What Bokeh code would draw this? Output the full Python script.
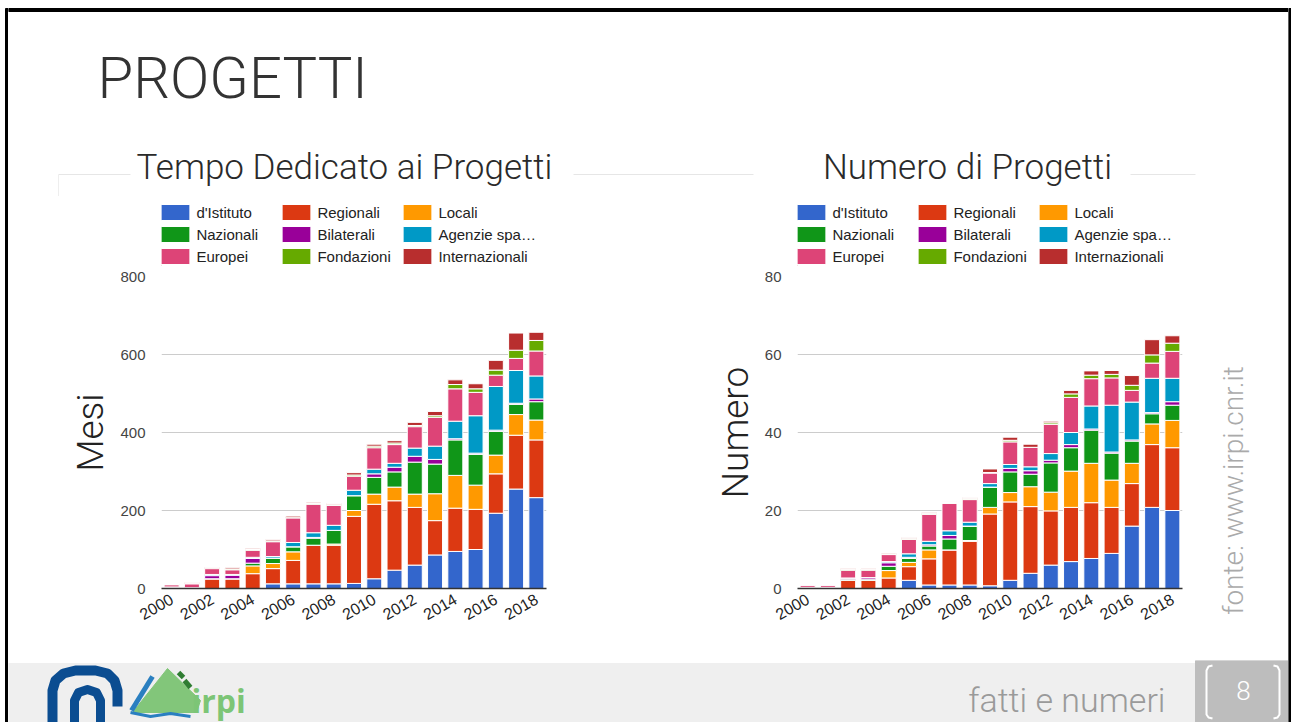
import math
from bokeh.plotting import figure
from bokeh.models import Range1d, FixedTicker, Legend, LegendItem, Label, ColumnDataSource
from bokeh.layouts import row, column
from bokeh.embed import file_html
from bokeh.resources import INLINE

# ---------------- data ----------------
years = list(range(2000, 2019))
x_tick_years = list(range(2000, 2019, 2))
x_tick_labels = [str(y) for y in x_tick_years]

series_labels = ["d'Istituto", "Regionali", "Locali", "Nazionali", "Bilaterali",
                 "Agenzie spa…", "Europei", "Fondazioni", "Internazionali"]
series_colors = ["#3366cc", "#dc3912", "#ff9900", "#109618", "#990099",
                 "#0099c6", "#dd4477", "#66aa00", "#b82e2e"]

# Tempo dedicato ai progetti (mesi)
mesi_istituto = [0, 0, 0, 0, 0, 12, 12, 12, 12, 13, 25, 47, 60, 86, 95, 100, 193, 255, 233]
mesi_regionali = [4, 2, 25, 25, 38, 39, 60, 99, 99, 172, 191, 178, 148, 88, 111, 103, 101, 138, 148]
mesi_locali = [0, 0, 0, 0, 20, 13, 22, 0, 3, 15, 26, 35, 34, 69, 84, 62, 48, 53, 51]
mesi_nazionali = [0, 0, 0, 0, 7, 14, 13, 18, 35, 38, 43, 39, 82, 76, 91, 79, 61, 26, 47]
mesi_bilaterali = [0, 0, 8, 9, 12, 0, 0, 2, 0, 0, 9, 12, 15, 12, 3, 3, 3, 3, 7]
mesi_agenzie = [0, 0, 3, 2, 3, 4, 11, 12, 13, 14, 12, 10, 21, 34, 45, 96, 112, 84, 59]
mesi_europei = [6, 10, 15, 12, 18, 38, 63, 73, 51, 36, 55, 48, 55, 74, 83, 60, 29, 31, 64]
mesi_fondazioni = [0, 1, 1, 2, 2, 2, 2, 2, 2, 3, 4, 4, 3, 4, 11, 9, 13, 21, 27]
mesi_internazionali = [0, 2, 2, 3, 3, 3, 3, 3, 3, 6, 5, 6, 8, 11, 12, 13, 25, 44, 21]

# Numero di progetti
num_istituto = [0, 0, 0, 0, 0, 2.1, 0.9, 0.9, 0.9, 0.7, 2.1, 3.9, 6.0, 6.9, 7.7, 9.0, 16.0, 20.8, 20.0]
num_regionali = [0.3, 0.3, 2.1, 2.1, 2.7, 3.5, 6.7, 9.0, 11.2, 18.4, 20.1, 17.1, 13.9, 13.9, 14.3, 11.8, 10.9, 16.1, 16.1]
num_locali = [0, 0, 0, 0, 1.9, 1.1, 2.3, 0, 0.2, 1.7, 2.4, 5.1, 4.8, 9.3, 10.1, 7.0, 5.2, 5.3, 7.0]
num_nazionali = [0, 0, 0.3, 0.3, 1.1, 1.0, 1.0, 2.8, 3.7, 5.2, 5.3, 3.2, 7.5, 6.0, 8.5, 6.9, 5.7, 2.6, 3.9]
num_bilaterali = [0, 0, 0.3, 0.4, 0.9, 0.3, 0.3, 0.9, 0, 0, 0.9, 0.9, 0.7, 0.8, 0.3, 0.3, 0.3, 0.3, 0.9]
num_agenzie = [0, 0, 0, 0, 0.3, 0.9, 0.9, 1.2, 1.0, 0.9, 1.0, 1.0, 1.7, 3.1, 5.9, 12.0, 9.7, 8.8, 6.0]
num_europei = [0.6, 0.6, 2.0, 1.9, 1.8, 3.7, 6.9, 7.0, 5.8, 2.7, 5.8, 5.0, 7.5, 9.0, 7.0, 7.0, 3.0, 3.9, 6.9]
num_fondazioni = [0, 0, 0.15, 0.15, 0.2, 0.25, 0.2, 0.25, 0.25, 0.15, 0.4, 0, 0.4, 0.9, 0.9, 0.9, 1.3, 2.1, 2.1]
num_internazionali = [0, 0, 0.2, 0.2, 0.2, 0.25, 0.2, 0.25, 0.25, 0.9, 0.8, 0.8, 0.4, 0.9, 1.1, 1.0, 2.5, 3.9, 1.9]

mesi_ticks = [0, 200, 400, 600, 800]
num_ticks = [0, 20, 40, 60, 80]

LIGHT = "Roboto Light"
SANS = "Liberation Sans"


def blank(width, height, y_down=True, bg="white"):
    p = figure(width=width, height=height, x_range=Range1d(0, width),
               y_range=Range1d(height, 0) if y_down else Range1d(0, height),
               x_axis_type=None, y_axis_type=None, output_backend="svg",
               toolbar_location=None, min_border=0, title=None)
    p.grid.visible = False
    p.outline_line_color = None
    p.background_fill_color = bg
    p.border_fill_color = bg
    return p


def make_legend_fig(width):
    # its frame is aligned by the column with the chart frame below it
    lf = blank(width, 70, y_down=False)
    rs = [lf.vbar(x=[-1e6], top=[1], width=1, fill_color=c, line_color="white", line_width=1)
          for c in series_colors]
    legend = Legend(items=[LegendItem(label=l, renderers=[r]) for l, r in zip(series_labels, rs)],
                    orientation="horizontal", ncols=3, location=(-3.6, 0),
                    glyph_width=36, glyph_height=20, label_height=20, label_width=80,
                    label_standoff=3, spacing=2, padding=0, margin=0,
                    border_line_color=None, background_fill_alpha=0,
                    label_text_font=SANS, label_text_font_size="15px",
                    label_text_color="#222222")
    lf.add_layout(legend, "center")
    return lf


def make_chart(values, y_end, y_ticks, y_title, width, b_left, b_right):
    keys = ["s%d" % i for i in range(len(values))]
    data = {"year": years}
    for k, v in zip(keys, values):
        data[k] = v
    src = ColumnDataSource(data)
    p = figure(width=width, height=394, x_range=Range1d(1999.5, 2018.5),
               y_range=Range1d(0, y_end), output_backend="svg", toolbar_location=None,
               title=None, min_border_left=b_left, min_border_right=b_right,
               min_border_top=10, min_border_bottom=72)
    p.outline_line_color = None
    p.vbar_stack(keys, x="year", width=0.74, source=src,
                 fill_color=series_colors, line_color="white", line_width=1)

    p.xgrid.grid_line_color = None
    p.ygrid.grid_line_color = "#cccccc"
    p.ygrid.ticker = FixedTicker(ticks=y_ticks)

    p.yaxis.ticker = FixedTicker(ticks=y_ticks)
    p.yaxis.axis_line_color = None
    p.yaxis.major_tick_line_color = None
    p.yaxis.major_tick_out = 0
    p.yaxis.major_tick_in = 0
    p.yaxis.minor_tick_line_color = None
    p.yaxis.major_label_text_font = SANS
    p.yaxis.major_label_text_font_size = "15px"
    p.yaxis.major_label_text_color = "#444444"
    p.yaxis.major_label_standoff = 16
    p.yaxis.axis_label = y_title
    p.yaxis.axis_label_text_font = LIGHT
    p.yaxis.axis_label_text_font_size = "37px"
    p.yaxis.axis_label_text_font_style = "normal"
    p.yaxis.axis_label_text_color = "#222222"
    p.yaxis.axis_label_standoff = 5

    p.xaxis.ticker = FixedTicker(ticks=x_tick_years)
    p.xaxis.major_label_overrides = {y: s for y, s in zip(x_tick_years, x_tick_labels)}
    p.xaxis.major_label_orientation = math.pi / 6
    p.xaxis.axis_line_color = "#333333"
    p.xaxis.axis_line_width = 1.5
    p.xaxis.major_tick_line_color = None
    p.xaxis.major_tick_out = 0
    p.xaxis.major_tick_in = 0
    p.xaxis.minor_tick_line_color = None
    p.xaxis.major_label_text_font = SANS
    p.xaxis.major_label_text_font_size = "16px"
    p.xaxis.major_label_text_color = "#222222"
    p.xaxis.major_label_standoff = 9
    return p


# ---------------- header (page x 8..1288, y 0..196) ----------------
hdr = blank(1280, 196)
hdr.quad(left=0, right=1280, top=8, bottom=11, color="black")
for x0, x1 in [(50, 122), (565, 745), (1122, 1187)]:
    hdr.line([x0, x1], [174, 174], line_color="#e6e6e6", line_width=1)
hdr.line([50, 50], [174, 196], line_color="#eeeeee", line_width=1)
hdr.add_layout(Label(x=89, y=77, text="PROGETTI", text_font=LIGHT, text_font_size="58px",
                     text_color="#333333", text_baseline="alphabetic"))
hdr.add_layout(Label(x=336, y=167, text="Tempo Dedicato ai Progetti", text_font=LIGHT,
                     text_font_size="35px", text_color="#2a2a2a", text_align="center",
                     text_baseline="alphabetic"))
hdr.add_layout(Label(x=959, y=167, text="Numero di Progetti", text_font=LIGHT,
                     text_font_size="35px", text_color="#2a2a2a", text_align="center",
                     text_baseline="alphabetic"))

# ---------------- charts (page y 196..660) ----------------
mesi_values = [mesi_istituto, mesi_regionali, mesi_locali, mesi_nazionali, mesi_bilaterali,
               mesi_agenzie, mesi_europei, mesi_fondazioni, mesi_internazionali]
num_values = [num_istituto, num_regionali, num_locali, num_nazionali, num_bilaterali,
              num_agenzie, num_europei, num_fondazioni, num_internazionali]

lg1 = make_legend_fig(628)
c1 = make_chart(mesi_values, 800, mesi_ticks, "Mesi", 628, 153, 90)
lg2 = make_legend_fig(559)
c2 = make_chart(num_values, 80, num_ticks, "Numero", 559, 161, 13)

side = blank(93, 464, y_down=False)
side.add_layout(Label(x=38, y=170, text="fonte: www.irpi.cnr.it", text_font=LIGHT,
                      text_font_size="28px", text_color="#aaaaaa", angle=math.pi / 2,
                      text_align="center", text_baseline="middle"))

# ---------------- footer (page y 660..722) ----------------
ftr = blank(1280, 62)
ftr.quad(left=0, right=1280, top=3, bottom=62, color="#efefef")
ftr.quad(left=1187, right=1280, top=0, bottom=62, color="#bdbdbd")
# CNR logo (approximate)
ftr.line([44, 44, 47, 55, 67, 87, 99, 106, 109, 109], [62, 30, 20, 13, 10, 10, 13, 20, 30, 46],
         line_color="#0b4d91", line_width=10, line_join="round")
ftr.line([66, 66, 70, 79, 88, 92, 92], [62, 40, 32, 29, 32, 40, 62],
         line_color="#0b4d91", line_width=9, line_join="round")
# IRPI logo (approximate)
ftr.patch([124, 159, 192, 188, 124], [52, 8, 40, 52, 52], color="#82c67a")
ftr.line([123, 144], [50, 16], line_color="#2a7fc0", line_width=5)
ftr.line([170, 175], [12, 17], line_color="#2f7d32", line_width=5)
ftr.line([176, 182], [20, 27], line_color="#2f7d32", line_width=5)
ftr.line([122, 142, 162, 182], [52, 56, 53, 56], line_color="#2a7fc0", line_width=3)
ftr.add_layout(Label(x=183, y=40, text="irpi", text_font="Open Sans", text_font_style="bold",
                     text_font_size="32px", text_color="#7cc576", text_baseline="alphabetic"))
ftr.add_layout(Label(x=1157, y=39, text="fatti e numeri", text_font=LIGHT,
                     text_font_size="34px", text_color="#9a9a9a", text_align="right",
                     text_baseline="alphabetic"))
# page number brackets
ftr.line([1204, 1200, 1198, 1198, 1200, 1204], [5, 6, 10, 54, 57, 58], line_color="white", line_width=2)
ftr.line([1265, 1269, 1271, 1271, 1269, 1265], [5, 6, 10, 54, 57, 58], line_color="white", line_width=2)
ftr.add_layout(Label(x=1235, y=30, text="8", text_font=LIGHT, text_font_size="26px",
                     text_color="white", text_align="center", text_baseline="middle"))

# ---------------- borders & layout ----------------
lstrip = blank(8, 722)
lstrip.quad(left=5, right=8, top=8, bottom=722, color="black")
rstrip = blank(3, 722)
rstrip.quad(left=0, right=3, top=8, bottom=722, color="black")

middle = row(column(lg1, c1), column(lg2, c2), side)
main = column(hdr, middle, ftr)
root = row(lstrip, main, rstrip)

open("out.html", "w").write(file_html(root, INLINE))
